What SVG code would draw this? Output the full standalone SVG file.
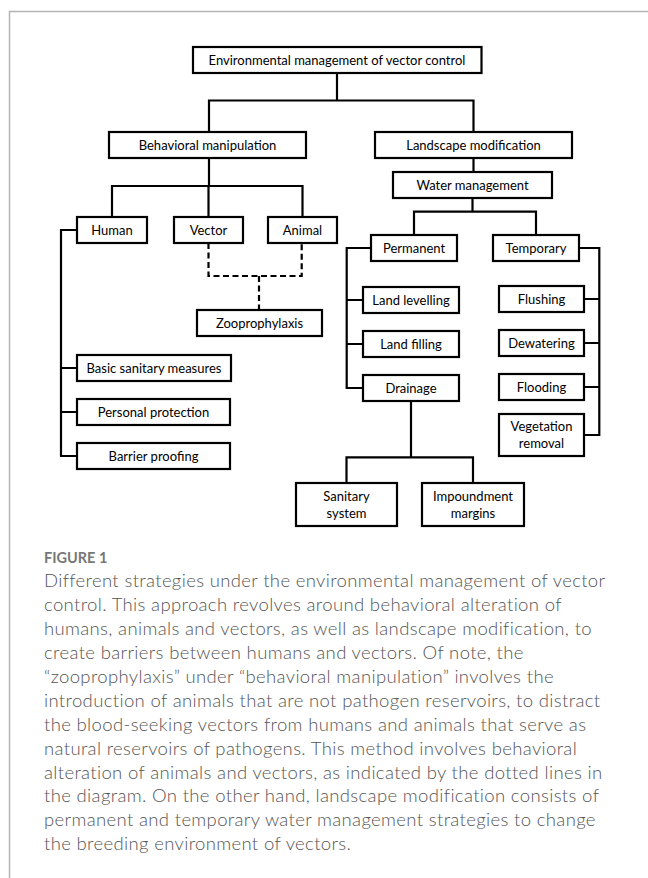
<svg xmlns="http://www.w3.org/2000/svg" width="648" height="878" viewBox="0 0 648 878">
<style>
.box{fill:#fff;stroke:#000;stroke-width:2.2}
.lbl{font-family:Lato,"Open Sans","Liberation Sans",sans-serif;font-size:13px;fill:#000;text-anchor:middle}
.ln{fill:none;stroke:#000;stroke-width:2.2}
.dash{fill:none;stroke:#000;stroke-width:2.2;stroke-dasharray:6 3.5}
.cap{font-family:Lato,"Open Sans","Liberation Sans",sans-serif;font-size:18.5px;font-weight:300;letter-spacing:0.35px;fill:#555}
.fig{font-family:Lato,"Open Sans","Liberation Sans",sans-serif;font-size:14.5px;font-weight:bold;fill:#777}
</style>
<rect width="648" height="878" fill="#fff"/>
<path d="M9.5 878 V11.5 H648" fill="none" stroke="#b4b4b4" stroke-width="1.5"/>
<g id="connectors">
<path class="ln" d="M337 73 V100.5 M209 132 V100.5 H473.5 V132"/>
<path class="ln" d="M209 158 V186 M112 217 V186 H302.5 V217 M208.5 186 V217"/>
<path class="dash" d="M208.5 243 V276 H301.7 V243 M259 276 V310"/>
<path class="ln" d="M77 230 H61 V456 H77 M61 368 H77 M61 412 H77"/>
<path class="ln" d="M473.5 158 V172"/>
<path class="ln" d="M472.5 198 V211.7 M414 235 V211.7 H536 V235"/>
<path class="ln" d="M371 248 H346.7 V388 H363 M346.7 300 H363 M346.7 344 H363"/>
<path class="ln" d="M579 248 H599.3 V435 H584 M599.3 299 H584 M599.3 343 H584 M599.3 387 H584"/>
<path class="ln" d="M411 401 V457.3 M346.5 483 V457.3 H473 V483"/>
</g>
<g id="n-root"><rect class="box" x="193" y="47" width="288.5" height="26"/><text class="lbl" x="337" y="64.5">Environmental management of vector control</text></g>
<g id="n-behav"><rect class="box" x="109" y="132" width="197" height="26"/><text class="lbl" x="207.5" y="149.5">Behavioral manipulation</text></g>
<g id="n-land"><rect class="box" x="375" y="132" width="197" height="26"/><text class="lbl" x="473.5" y="149.5">Landscape modification</text></g>
<g id="n-water"><rect class="box" x="393" y="172" width="159" height="26"/><text class="lbl" x="472.5" y="189.5">Water management</text></g>
<g id="n-human"><rect class="box" x="77" y="217" width="70" height="26"/><text class="lbl" x="112" y="234.5">Human</text></g>
<g id="n-vector"><rect class="box" x="174" y="217" width="69" height="26"/><text class="lbl" x="208.5" y="234.5">Vector</text></g>
<g id="n-animal"><rect class="box" x="268" y="217" width="69" height="26"/><text class="lbl" x="302.5" y="234.5">Animal</text></g>
<g id="n-zoo"><rect class="box" x="197" y="310" width="125" height="26"/><text class="lbl" x="259.5" y="327.5">Zooprophylaxis</text></g>
<g id="n-basic"><rect class="box" x="77" y="355" width="154" height="26"/><text class="lbl" x="154" y="372.5">Basic sanitary measures</text></g>
<g id="n-personal"><rect class="box" x="77" y="399" width="153" height="26"/><text class="lbl" x="153.5" y="416.5">Personal protection</text></g>
<g id="n-barrier"><rect class="box" x="77" y="443" width="153" height="26"/><text class="lbl" x="153.5" y="460.5">Barrier proofing</text></g>
<g id="n-perm"><rect class="box" x="371" y="235" width="86" height="26"/><text class="lbl" x="414" y="252.5">Permanent</text></g>
<g id="n-temp"><rect class="box" x="493" y="235" width="86" height="26"/><text class="lbl" x="536" y="252.5">Temporary</text></g>
<g id="n-levelling"><rect class="box" x="363" y="287" width="96" height="26"/><text class="lbl" x="411" y="304.5">Land levelling</text></g>
<g id="n-filling"><rect class="box" x="363" y="331" width="96" height="26"/><text class="lbl" x="411" y="348.5">Land filling</text></g>
<g id="n-drainage"><rect class="box" x="363" y="375" width="96" height="26"/><text class="lbl" x="411" y="392.5">Drainage</text></g>
<g id="n-flushing"><rect class="box" x="499" y="286" width="85" height="26"/><text class="lbl" x="541.5" y="303.5">Flushing</text></g>
<g id="n-dewatering"><rect class="box" x="499" y="330" width="85" height="26"/><text class="lbl" x="541.5" y="347.5">Dewatering</text></g>
<g id="n-flooding"><rect class="box" x="499" y="374" width="85" height="26"/><text class="lbl" x="541.5" y="391.5">Flooding</text></g>
<g id="n-vegetation"><rect class="box" x="499" y="414" width="85" height="42"/><text class="lbl" x="541.5" y="431">Vegetation</text><text class="lbl" x="541.5" y="447.5">removal</text></g>
<g id="n-sanitary"><rect class="box" x="296" y="483" width="101" height="43"/><text class="lbl" x="346.5" y="501">Sanitary</text><text class="lbl" x="346.5" y="517.5">system</text></g>
<g id="n-impound"><rect class="box" x="422" y="483" width="102" height="43"/><text class="lbl" x="473" y="501">Impoundment</text><text class="lbl" x="473" y="517.5">margins</text></g>
<g id="caption">
<text class="fig" x="44" y="563.3">FIGURE 1</text>
<text class="cap" x="44" y="587.3">Different strategies under the environmental management of vector</text>
<text class="cap" x="44" y="611.2">control. This approach revolves around behavioral alteration of</text>
<text class="cap" x="44" y="635.1">humans, animals and vectors, as well as landscape modification, to</text>
<text class="cap" x="44" y="659">create barriers between humans and vectors. Of note, the</text>
<text class="cap" x="44" y="682.9">“zooprophylaxis” under “behavioral manipulation” involves the</text>
<text class="cap" x="44" y="706.8">introduction of animals that are not pathogen reservoirs, to distract</text>
<text class="cap" x="44" y="730.7">the blood-seeking vectors from humans and animals that serve as</text>
<text class="cap" x="44" y="754.6">natural reservoirs of pathogens. This method involves behavioral</text>
<text class="cap" x="44" y="778.5">alteration of animals and vectors, as indicated by the dotted lines in</text>
<text class="cap" x="44" y="802.4">the diagram. On the other hand, landscape modification consists of</text>
<text class="cap" x="44" y="826.3">permanent and temporary water management strategies to change</text>
<text class="cap" x="44" y="850.2">the breeding environment of vectors.</text>
</g>
</svg>
